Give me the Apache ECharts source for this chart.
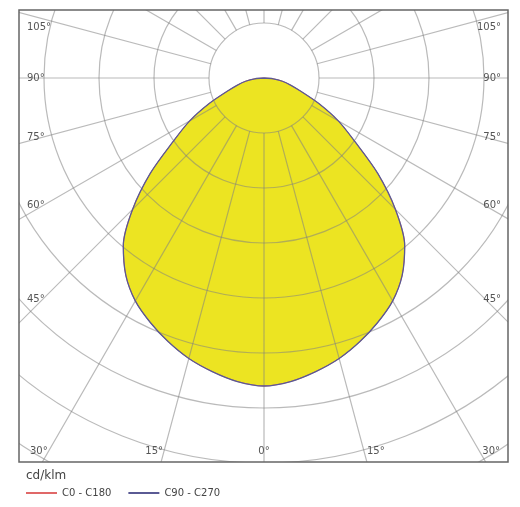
<!DOCTYPE html>
<html>
<head>
<meta charset="utf-8">
<script src="https://cdn.jsdelivr.net/npm/echarts@6/dist/echarts.min.js"></script>
<style>
  html, body { margin: 0; padding: 0; background: #fff; }
  #chart { width: 520px; height: 507px; }
</style>
</head>
<body>
<div id="chart"></div>
<script>
const chart = echarts.init(document.getElementById("chart"));

// ==========================
// DATA (cd/klm, gamma angle from nadir)
// ==========================
const gammaAngles = [0, 5, 10, 15, 20, 25, 30, 35, 40, 45, 50, 55, 60, 65, 70, 75, 80, 85, 90];
const c0c180 =      [280, 277, 271, 264, 255, 245, 234, 219, 199, 169, 135, 101, 78, 55, 36, 25, 17, 8.5, 0];
const c90c270 =     [280, 277, 271, 264, 255, 245, 234, 219, 199, 169, 135, 101, 78, 55, 36, 25, 17, 8.5, 0];

const sideLabels = [45, 60, 75, 90, 105];
const bottomLabels = [-30, -15, 0, 15, 30];
const seriesNames = ["C0 - C180", "C90 - C270"];

// ==========================
// LAYOUT
// ==========================
const CX = 264, CY = 78;
const FRAME = { x: 19, y: 10, w: 489, h: 452 };
const FONT = "10px 'DejaVu Sans', Verdana, sans-serif";

// curve from -90 through 0 to +90 (left half mirrors the right one)
function curve(values) {
  const pts = [];
  for (let i = gammaAngles.length - 1; i > 0; i--) pts.push([values[i], -gammaAngles[i]]);
  for (let i = 0; i < gammaAngles.length; i++) pts.push([values[i], gammaAngles[i]]);
  return pts;
}

function angleLabels() {
  const out = [];
  sideLabels.forEach(a => {
    const t = a * Math.PI / 180;
    const k = (CX - 43) / Math.sin(t);
    const y = Math.max(27, CY + k * Math.cos(t));
    out.push({ x: 27, y, text: a + "°", align: "left" });
    out.push({ x: 501, y, text: a + "°", align: "right" });
  });
  bottomLabels.forEach(a => {
    const xr = CX + 373 * Math.tan(a * Math.PI / 180);
    let x = CX, align = "center";
    if (a < 0) { x = xr - 1; align = "right"; }
    if (a > 0) { x = xr + 3; align = "left"; }
    out.push({ x, y: 451, text: Math.abs(a) + "°", align });
  });
  return out.map(l => ({
    type: "text",
    x: l.x,
    y: l.y,
    z: 52,
    style: {
      text: l.text,
      font: FONT,
      fill: "#555",
      align: l.align,
      textAlign: l.align,
      verticalAlign: "middle",
      textVerticalAlign: "middle"
    }
  }));
}

const gridLine = { color: "rgba(130,130,130,0.55)", width: 1.2 };

const curveSeries = (name, values, color, width, z) => ({
  name,
  type: "line",
  coordinateSystem: "polar",
  polarIndex: 1,
  data: curve(values),
  symbol: "none",
  smooth: 0.3,
  z,
  itemStyle: { color },
  lineStyle: { color, width }
});

chart.setOption({
  animation: false,
  backgroundColor: "#fff",
  title: {
    text: "cd/klm",
    left: 21,
    top: 465,
    z: 60,
    textStyle: {
      fontFamily: "'DejaVu Sans', Verdana, sans-serif",
      fontSize: 12,
      fontWeight: "normal",
      color: "#444"
    }
  },
  legend: {
    data: seriesNames,
    left: 21,
    top: 483,
    z: 60,
    icon: "rect",
    itemWidth: 31,
    itemHeight: 2,
    itemGap: 17,
    textStyle: {
      fontFamily: "'DejaVu Sans', Verdana, sans-serif",
      fontSize: 10,
      color: "#444"
    }
  },
  polar: [
    { center: [CX, CY], radius: [55, 495] },
    { center: [CX, CY], radius: [0, 495] }
  ],
  angleAxis: [
    {
      polarIndex: 0,
      type: "value",
      min: -180,
      max: 180,
      interval: 15,
      startAngle: 90,
      clockwise: true,
      z: 5,
      axisLine: { show: false },
      axisTick: { show: false },
      axisLabel: { show: false },
      splitLine: { show: true, lineStyle: gridLine }
    },
    {
      polarIndex: 1,
      type: "value",
      min: -180,
      max: 180,
      startAngle: 90,
      clockwise: true,
      show: false
    }
  ],
  radiusAxis: [
    {
      polarIndex: 0,
      type: "value",
      min: 0,
      max: 400,
      interval: 50,
      z: 5,
      axisLine: { show: false },
      axisTick: { show: false },
      axisLabel: { show: false },
      splitLine: { show: true, lineStyle: gridLine }
    },
    {
      polarIndex: 1,
      type: "value",
      min: 0,
      max: 450,
      show: false
    }
  ],
  series: [
    {
      name: "fill",
      type: "line",
      coordinateSystem: "polar",
      polarIndex: 1,
      data: curve(c90c270),
      symbol: "none",
      smooth: 0.3,
      silent: true,
      z: 1,
      lineStyle: { width: 0 },
      areaStyle: { color: "#ece422", opacity: 1 }
    },
    curveSeries(seriesNames[0], c0c180, "#e06868", 1, 6),
    curveSeries(seriesNames[1], c90c270, "#5a5a94", 1.3, 7)
  ],
  graphic: [
    // white masks clip the polar grid to the frame
    { type: "rect", z: 50, shape: { x: 0, y: 0, width: 520, height: FRAME.y }, style: { fill: "#fff" } },
    { type: "rect", z: 50, shape: { x: 0, y: 0, width: FRAME.x, height: 507 }, style: { fill: "#fff" } },
    { type: "rect", z: 50, shape: { x: FRAME.x + FRAME.w, y: 0, width: 520, height: 507 }, style: { fill: "#fff" } },
    { type: "rect", z: 50, shape: { x: 0, y: FRAME.y + FRAME.h, width: 520, height: 60 }, style: { fill: "#fff" } },
    {
      type: "rect",
      z: 51,
      shape: { x: FRAME.x, y: FRAME.y, width: FRAME.w, height: FRAME.h },
      style: { fill: "none", stroke: "#666", lineWidth: 1.5 }
    },
    ...angleLabels()
  ]
});
</script>
</body>
</html>
